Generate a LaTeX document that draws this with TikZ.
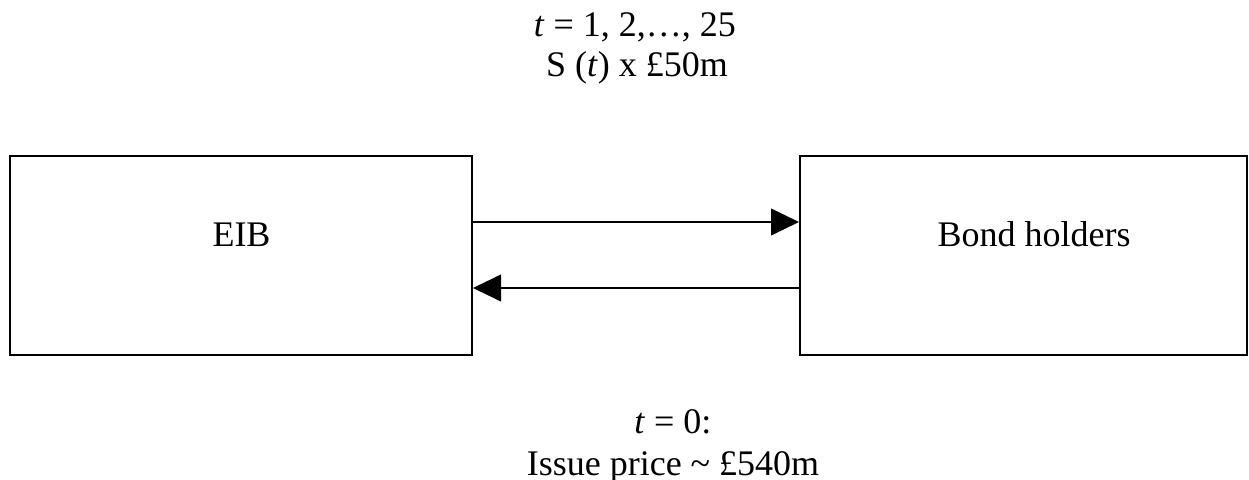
\documentclass[tikz,border=0pt]{standalone}
\usepackage{fontspec}
\setmainfont{Liberation Serif}
\usetikzlibrary{arrows.meta}
\begin{document}
\begin{tikzpicture}[x=0.75pt,y=-0.75pt,
  box/.style={draw, line width=1.5pt, inner sep=0pt},
  txt/.style={anchor=base, inner sep=0pt, font=\fontsize{27}{30}\selectfont},
  flow/.style={line width=1.5pt, -{Triangle[length=21pt, width=20pt]}}]
\useasboundingbox (0,0) rectangle (1249,479);
\node[box, minimum width=346.5pt, minimum height=149.25pt] (eib) at (241,255.5) {};
\node[box, minimum width=335.25pt, minimum height=149.25pt] (bh) at (1023.5,255.5) {};
\node[txt] (eibt) at (241.5,246) {EIB};
\node[txt] (bht) at (1034,246) {Bond holders};
\draw[flow] (eib.east |- 0,222) -- (bh.west |- 0,222);
\draw[flow] (bh.west |- 0,288) -- (eib.east |- 0,288);
\node[txt] (top1) at (635,36) {\textit{t} = 1, 2,…, 25};
\node[txt] (top2) at (637,76) {S (\textit{t}) x £50m};
\node[txt] (bot1) at (673,433) {\textit{t} = 0:};
\node[txt] (bot2) at (673,475) {Issue price \textasciitilde{} £540m};
\end{tikzpicture}
\end{document}
